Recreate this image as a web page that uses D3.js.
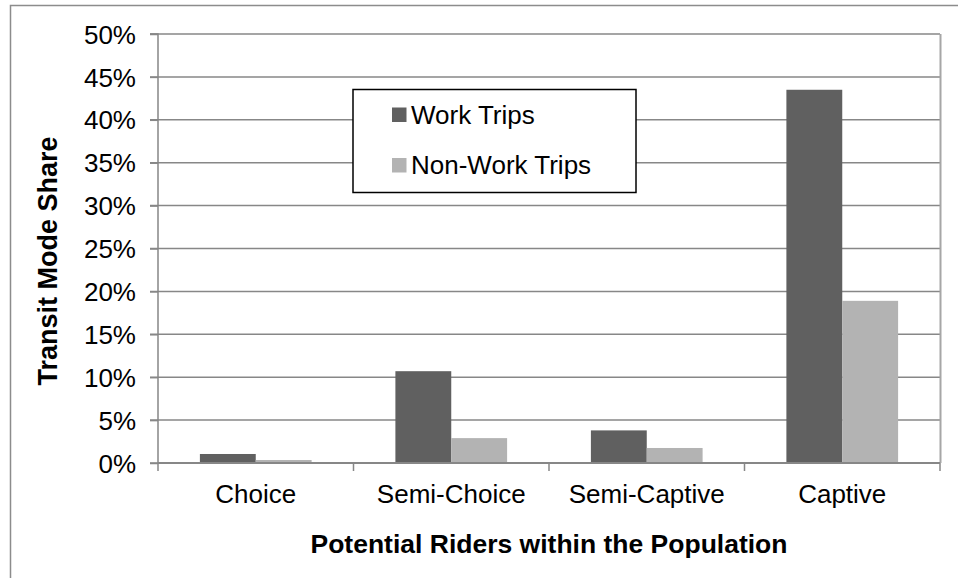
<!DOCTYPE html>
<html>
<head>
<meta charset="utf-8">
<script src="https://cdn.jsdelivr.net/npm/d3@7"></script>
<style>
  html, body { margin: 0; padding: 0; background: #fff; }
  svg { display: block; }
  text { font-family: "Liberation Sans", Arial, sans-serif; fill: #000; }
</style>
</head>
<body>
<svg id="chart" width="958" height="578"></svg>
<script>
const categories = ["Choice", "Semi-Choice", "Semi-Captive", "Captive"];
const seriesNames = ["Work Trips", "Non-Work Trips"];
const workTrips = [0.0105, 0.107, 0.038, 0.435];
const nonWorkTrips = [0.0035, 0.029, 0.0175, 0.189];
const yTicks = [0, 0.05, 0.10, 0.15, 0.20, 0.25, 0.30, 0.35, 0.40, 0.45, 0.50];
const colors = ["#606060", "#b3b3b3"];

const svg = d3.select("#chart");
const margin = { left: 158, right: 940, top: 34, bottom: 463 };

// outer chart border
svg.append("path")
  .attr("d", "M10.5,600 L10.5,5.5 L980,5.5")
  .attr("fill", "none").attr("stroke", "#8c8c8c").attr("stroke-width", 1.5);

const x = d3.scaleBand().domain(categories).range([margin.left, margin.right]).paddingInner(0).paddingOuter(0);
const inner = d3.scaleBand().domain(seriesNames).range([0, x.bandwidth()]).paddingInner(0).paddingOuter(0.75);
const y = d3.scaleLinear().domain([0, 0.5]).range([margin.bottom, margin.top]);

// gridlines
svg.append("g").selectAll("line").data(yTicks.filter(d => d > 0)).join("line")
  .attr("x1", margin.left - 8).attr("x2", margin.right)
  .attr("y1", d => y(d)).attr("y2", d => y(d))
  .attr("stroke", "#878787").attr("stroke-width", 1.5);

// plot area right border
svg.append("line")
  .attr("x1", margin.right + 0.5).attr("x2", margin.right + 0.5)
  .attr("y1", margin.top).attr("y2", margin.bottom)
  .attr("stroke", "#a6a6a6").attr("stroke-width", 2);

// bars
const data = categories.map((c, i) => ({ cat: c, vals: [workTrips[i], nonWorkTrips[i]] }));
const groups = svg.append("g").selectAll("g").data(data).join("g")
  .attr("transform", d => `translate(${x(d.cat)},0)`);
groups.selectAll("rect").data(d => d.vals.map((v, j) => ({ v, s: seriesNames[j], j }))).join("rect")
  .attr("x", d => inner(d.s))
  .attr("width", inner.bandwidth())
  .attr("y", d => y(d.v))
  .attr("height", d => y(0) - y(d.v))
  .attr("fill", d => colors[d.j]);

// y axis
const yAxis = d3.axisLeft(y).tickValues(yTicks).tickFormat(d3.format(".0%")).tickSize(8).tickPadding(14);
const ya = svg.append("g").attr("transform", `translate(${margin.left},0)`).call(yAxis);
ya.select(".domain").attr("stroke", "#878787").attr("stroke-width", 1.5).attr("d", `M-8,${margin.top}H0V${margin.bottom}H-8`);
ya.selectAll(".tick line").attr("stroke", "#878787").attr("stroke-width", 1.5);
ya.selectAll(".tick text").style("font-size", "26px").attr("font-family", null).attr("fill", "#000").attr("dy", "0.35em");

// x axis
const xAxis = d3.axisBottom(x).tickSize(0).tickPadding(22);
const xa = svg.append("g").attr("transform", `translate(0,${margin.bottom})`).call(xAxis);
xa.select(".domain").attr("stroke", "#878787").attr("stroke-width", 2).attr("d", `M${margin.left},0H${margin.right}`);
xa.selectAll(".tick text").style("font-size", "26px").attr("font-family", null).attr("fill", "#000");
// category boundary ticks
const bounds = categories.map(c => x(c)).concat([margin.right]);
svg.append("g").selectAll("line").data(bounds).join("line")
  .attr("x1", d => d).attr("x2", d => d)
  .attr("y1", margin.bottom).attr("y2", margin.bottom + 8)
  .attr("stroke", "#878787").attr("stroke-width", 1.5);

// axis titles
svg.append("text")
  .attr("x", (margin.left + margin.right) / 2).attr("y", 553)
  .attr("text-anchor", "middle")
  .style("font-size", "26.5px").style("font-weight", "bold")
  .text("Potential Riders within the Population");
svg.append("text")
  .attr("transform", `translate(48,261) rotate(-90)`)
  .attr("text-anchor", "middle").attr("dy", "0.35em")
  .style("font-size", "27px").style("font-weight", "bold")
  .text("Transit Mode Share");

// legend
const lg = svg.append("g");
lg.append("rect").attr("x", 353).attr("y", 89.5).attr("width", 283).attr("height", 103)
  .attr("fill", "#fff").attr("stroke", "#000").attr("stroke-width", 1.5);
const rowsY = [114.5, 165];
seriesNames.forEach((s, i) => {
  lg.append("rect").attr("x", 392).attr("y", rowsY[i] - 7).attr("width", 14.5).attr("height", 14.5).attr("fill", colors[i]);
  lg.append("text").attr("x", 411).attr("y", rowsY[i]).attr("dy", "0.35em")
    .style("font-size", "26px").text(s);
});
</script>
</body>
</html>
